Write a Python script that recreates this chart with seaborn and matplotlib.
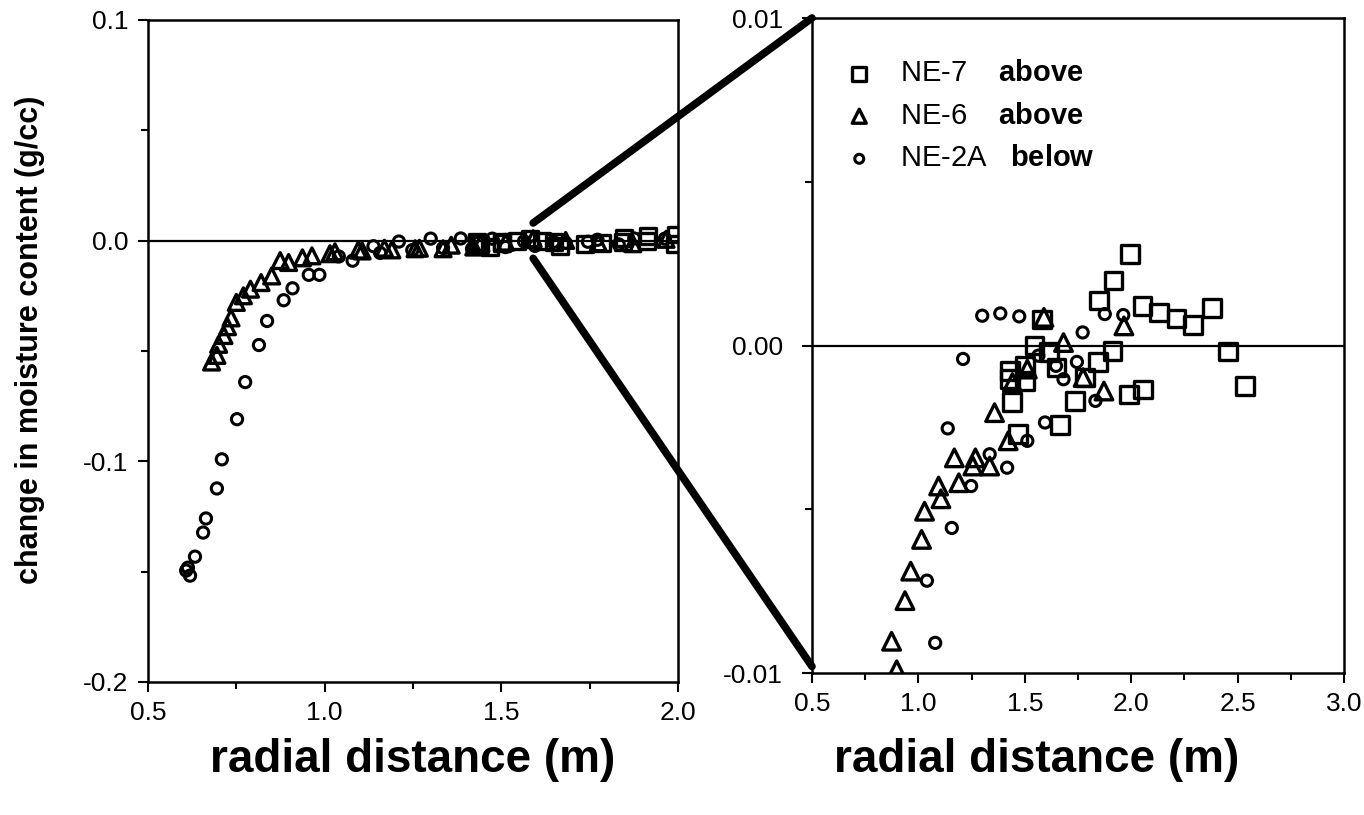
import matplotlib
matplotlib.use("Agg")
import matplotlib.pyplot as plt
from matplotlib.patches import ConnectionPatch
from matplotlib.ticker import MultipleLocator, FormatStrFormatter
import seaborn as sns
import pandas as pd

# NE-7 (above) - squares
ne7_x = [1.43, 1.43, 1.44, 1.468, 1.501, 1.501, 1.545, 1.58, 1.615, 1.65, 1.666, 1.737,
         1.784, 1.845, 1.913, 1.848, 1.916, 1.995, 1.99, 2.056, 2.053, 2.132, 2.214, 2.29,
         2.38, 2.455, 2.535]
ne7_y = [-0.00077, -0.00103, -0.00172, -0.00271, -0.00062, -0.00108, 0.0, 0.0008, -0.0002,
         -0.00067, -0.00243, -0.00169, -0.00098, -0.0005, -0.00017, 0.00137, 0.00198, 0.0028,
         -0.00149, -0.00134, 0.00121, 0.00101, 0.00083, 0.00063, 0.00114, -0.00018, -0.00123]

# NE-6 (above) - triangles
ne6_x = [0.68, 0.695, 0.70, 0.715, 0.725, 0.735, 0.75, 0.77, 0.79, 0.82, 0.85,
         0.874, 0.898, 0.937, 0.964, 1.015, 1.029, 1.095, 1.106, 1.169, 1.19, 1.256, 1.268,
         1.335, 1.358, 1.422, 1.442, 1.512, 1.59, 1.682, 1.774, 1.872, 1.966]
ne6_y = [-0.055, -0.052, -0.047, -0.043, -0.039, -0.035, -0.028, -0.025, -0.022, -0.019, -0.016,
         -0.00903, -0.0099, -0.00779, -0.00689, -0.00592, -0.00506, -0.00429, -0.00468, -0.00343,
         -0.00419, -0.00368, -0.00343, -0.00368, -0.00205, -0.00291, -0.00113, -0.00072, 0.00086,
         0.00009, -0.00098, -0.00139, 0.0006]

# NE-2A (below) - circles
ne2a_x = [0.608, 0.613, 0.619, 0.633, 0.656, 0.664, 0.695, 0.709, 0.752, 0.775, 0.814, 0.837,
          0.884, 0.909, 0.955, 0.985,
          1.04, 1.079, 1.138, 1.157, 1.21, 1.248, 1.3, 1.335, 1.385, 1.417, 1.474, 1.512,
          1.564, 1.595, 1.647, 1.682, 1.745, 1.772, 1.832, 1.876, 1.963]
ne2a_y = [-0.1495, -0.1482, -0.1518, -0.1432, -0.1323, -0.1259, -0.1123, -0.0991, -0.0809,
          -0.0641, -0.0473, -0.0364, -0.027, -0.0216, -0.0155, -0.0155,
          -0.00718, -0.00908, -0.00253, -0.00557, -0.00041, -0.00429, 0.00091, -0.00332, 0.00098,
          -0.00373, 0.00089, -0.00291, -0.00031, -0.00235, -0.00062, -0.00103, -0.0005, 0.0004,
          -0.00169, 0.00096, 0.00093]

labels = [r"NE-7    $\mathbf{above}$", r"NE-6    $\mathbf{above}$", r"NE-2A   $\mathbf{below}$"]

sns.set_style("ticks")
plt.rcParams["font.family"] = ["Liberation Sans", "DejaVu Sans"]
plt.rcParams["mathtext.fontset"] = "custom"
plt.rcParams["mathtext.rm"] = "Liberation Sans"
plt.rcParams["mathtext.bf"] = "Liberation Sans:bold"
for k in ["text.color", "axes.labelcolor", "xtick.color", "ytick.color", "axes.edgecolor"]:
    plt.rcParams[k] = "black"

df7 = pd.DataFrame({"x": ne7_x, "y": ne7_y})
df6 = pd.DataFrame({"x": ne6_x, "y": ne6_y})
df2 = pd.DataFrame({"x": ne2a_x, "y": ne2a_y})

fig = plt.figure(figsize=(13.64, 8.15), dpi=100)
ax1 = fig.add_axes([0.1085, 0.1632, 0.3886, 0.8123])
ax2 = fig.add_axes([0.5953, 0.1742, 0.390, 0.8037])


def draw(ax, big):
    sq = 160 if big else 130
    sns.scatterplot(data=df7, x="x", y="y", ax=ax, marker="s", s=sq, facecolor="none",
                    edgecolor="black", linewidth=2.4, label=labels[0])
    sns.scatterplot(data=df6, x="x", y="y", ax=ax, marker="^", s=sq, facecolor="none",
                    edgecolor="black", linewidth=2.4, label=labels[1])
    sns.scatterplot(data=df2, x="x", y="y", ax=ax, marker="o", s=65, facecolor="none",
                    edgecolor="black", linewidth=2.2, label=labels[2])
    ax.axhline(0, color="black", lw=1.6, zorder=0)
    for sp in ax.spines.values():
        sp.set_visible(True)
        sp.set_linewidth(1.8)
        sp.set_color("black")
    ax.tick_params(which="both", direction="out", color="black", width=1.5)
    ax.tick_params(which="major", length=7, labelsize=19, pad=7)
    ax.tick_params(which="minor", length=5)
    ax.xaxis.set_major_locator(MultipleLocator(0.5))
    ax.xaxis.set_minor_locator(MultipleLocator(0.25))
    ax.xaxis.set_major_formatter(FormatStrFormatter("%.1f"))
    ax.set_ylabel("")
    ax.set_xlabel("radial distance (m)", fontsize=33, fontweight="bold")
    ax.xaxis.label.set_verticalalignment("center")


draw(ax1, False)
ax1.set_xlim(0.5, 2.0)
ax1.set_ylim(-0.2, 0.1)
ax1.yaxis.set_major_locator(MultipleLocator(0.1))
ax1.yaxis.set_minor_locator(MultipleLocator(0.05))
ax1.yaxis.set_major_formatter(FormatStrFormatter("%.1f"))
ax1.get_legend().remove()
ax1.xaxis.set_label_coords(0.5, -0.118)
ax1.set_ylabel("change in moisture content (g/cc)", fontsize=22, fontweight="bold")
ax1.yaxis.set_label_coords(-0.223, 0.517)
ax1.yaxis.label.set_verticalalignment("center")

draw(ax2, True)
ax2.set_xlim(0.5, 3.0)
ax2.set_ylim(-0.01, 0.01)
ax2.yaxis.set_major_locator(MultipleLocator(0.01))
ax2.yaxis.set_minor_locator(MultipleLocator(0.005))
ax2.yaxis.set_major_formatter(FormatStrFormatter("%.2f"))
ax2.tick_params(axis="y", which="major", pad=14)
ax2.xaxis.set_label_coords(0.423, -0.133)
leg = ax2.legend(loc="upper left", bbox_to_anchor=(0.034, 0.937), frameon=False, fontsize=21,
                 markerscale=0.8, handlelength=2.0, handletextpad=0.4, labelspacing=0.5,
                 borderpad=0, borderaxespad=0)

for tl in ax1.get_xticklabels() + ax1.get_yticklabels() + ax2.get_xticklabels() + ax2.get_yticklabels():
    tl.set_fontweight("light")

# zoom connector lines
for ya, yb in [(0.008, 0.01), (-0.008, -0.0098)]:
    con = ConnectionPatch(xyA=(1.59, ya), coordsA=ax1.transData,
                          xyB=(0.5, yb), coordsB=ax2.transData,
                          color="black", lw=5.5)
    fig.add_artist(con)

fig.savefig("out.png", dpi=100)
